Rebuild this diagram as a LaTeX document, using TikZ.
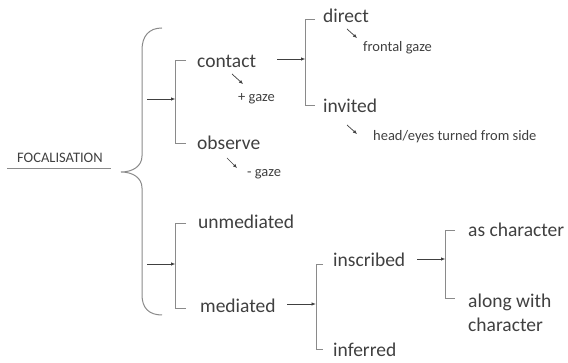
\documentclass[tikz,border=0pt]{standalone}
\usepackage{fontspec}
\setmainfont{Carlito}
\usetikzlibrary{arrows.meta}
\definecolor{txt}{HTML}{404040}
\definecolor{ln}{HTML}{8A8A8A}
\begin{document}
\begin{tikzpicture}[x=1pt,y=-1pt,
  big/.style={anchor=base west,inner sep=0pt,text=txt,font=\fontsize{19.5}{23}\selectfont},
  small/.style={anchor=base west,inner sep=0pt,text=txt,font=\fontsize{14.5}{17}\selectfont},
  brk/.style={draw=ln,line width=0.9pt},
  arr/.style={draw=txt,line width=0.8pt,-{Latex[length=4.5pt,width=3.5pt]}},
  sarr/.style={draw=txt,line width=0.7pt,-{Latex[length=4pt,width=3.5pt]}}]
\useasboundingbox (0,0) rectangle (568,363);
% title
\node[small] (foc) at (17,163) {FOCALISATION};
\coordinate (ul1) at (7,169);
\coordinate (ul2) at (111,169);
\draw[ln,line width=1pt] (ul1) -- (ul2);
% brace
\coordinate (bt) at (162,28);
\coordinate (btip) at (121,172);
\coordinate (bb) at (162,315);
\draw[ln,line width=1pt] (bt) .. controls (149,28) and (142,36) .. (142,50) -- (142,156)
  .. controls (142,166) and (133,172) .. (btip)
  .. controls (133,172) and (142,178) .. (142,188) -- (142,295)
  .. controls (142,308) and (149,315) .. (bb);
% upper branch
\coordinate (a1s) at (147,99);
\coordinate (a1e) at (175.5,99);
\draw[brk] (186,60) -| (175.5,143) -- (186,143);
\draw[arr] (a1s) -- (a1e);
\node[big] (contact) at (197,68) {contact};
\node[big] (observe) at (197,150) {observe};
\node[small] (pgaze) at (238,102) {+ gaze};
\node[small] (mgaze) at (247,177) {- gaze};
\coordinate (s1a) at (232,74); \coordinate (s1b) at (243,84);
\coordinate (s2a) at (227,158); \coordinate (s2b) at (237,168);
\draw[sarr] (s1a) -- (s1b);
\draw[sarr] (s2a) -- (s2b);
% contact -> direct/invited
\coordinate (b2) at (305.5,59);
\coordinate (c2s) at (277,59);
\draw[brk] (315,19) -| (305.5,105) -- (315,105);
\draw[arr] (c2s) -- (b2);
\node[big] (direct) at (323,23) {direct};
\node[big] (invited) at (323,113) {invited};
\node[small] (frontal) at (363,52) {frontal gaze};
\node[small] (head) at (373,141) {head/eyes turned from side};
\coordinate (s3a) at (347,29); \coordinate (s3b) at (357,38);
\coordinate (s4a) at (347,125); \coordinate (s4b) at (357,134);
\draw[sarr] (s3a) -- (s3b);
\draw[sarr] (s4a) -- (s4b);
% lower branch
\coordinate (a2s) at (147,264);
\coordinate (a2e) at (175.5,264);
\draw[brk] (186,223) -| (175.5,308) -- (186,308);
\draw[arr] (a2s) -- (a2e);
\node[big] (unmed) at (198,229) {unmediated};
\node[big] (med) at (200,313) {mediated};
% mediated -> inscribed/inferred
\coordinate (m1) at (287,304);
\coordinate (b4) at (316,304);
\draw[brk] (323,264) -| (316,349) -- (323,349);
\draw[arr] (m1) -- (b4);
\node[big] (inscr) at (333,267) {inscribed};
\node[big] (infer) at (333,357) {inferred};
% inscribed -> as/along
\coordinate (i1) at (417,259);
\coordinate (b5) at (445.5,259);
\draw[brk] (455,230) -| (445.5,298) -- (455,298);
\draw[arr] (i1) -- (b5);
\node[big] (asch) at (468,237) {as character};
\node[big] (along) at (468,308) {along with};
\node[big] (along2) at (468,332) {character};
\end{tikzpicture}
\end{document}
